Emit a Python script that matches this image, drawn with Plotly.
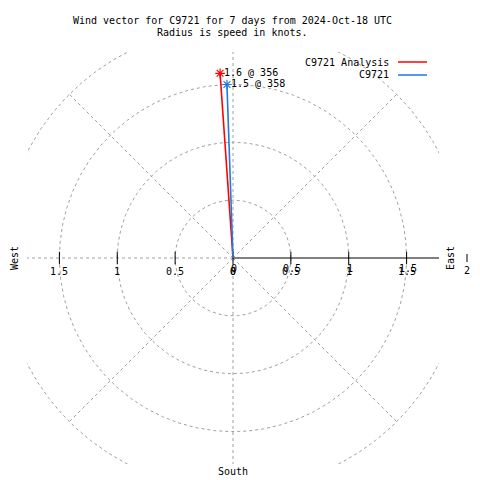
import numpy as np
import plotly.graph_objects as go

# ---- data ----
series_names = ["C9721 Analysis", "C9721"]
series_speed = [1.6, 1.5]          # knots
series_dir = [356, 358]            # degrees (from north, clockwise)
series_colors = ["#ff0000", "#1f7ae0"]

grid_radii = [0.5, 1.0, 1.5, 2.0]
spoke_angles = [45, 90, 135, 180, 225, 270, 315]
left_tick_vals = [-1.5, -1.0, -0.5, 0.0]
left_tick_text = ["1.5", "1", "0.5", "0"]
right_tick_vals = [0.0, 0.5, 1.0, 1.5]
right_tick_text = ["0", "0.5", "1", "1.5"]

title1 = "Wind vector for C9721 for 7 days from 2024-Oct-18 UTC"
title2 = "Radius is speed in knots."

R = 1.78
FONT = "DejaVu Sans Mono"
FS = 10
GRID = "#a0a0a0"

fig = go.Figure()
annots = []
shapes = []

# grid circles
th = np.linspace(0, 2 * np.pi, 721)
for r in grid_radii:
    fig.add_trace(go.Scatter(x=r * np.cos(th), y=r * np.sin(th), mode="lines",
                             line=dict(color=GRID, width=1, dash="3px,3px"),
                             hoverinfo="skip", showlegend=False))
# spokes (to the outer circle)
for a in spoke_angles:
    ar = np.deg2rad(a)
    rr = grid_radii[-1]
    fig.add_trace(go.Scatter(x=[0, rr * np.cos(ar)], y=[0, rr * np.sin(ar)], mode="lines",
                             line=dict(color=GRID, width=1, dash="3px,3px"),
                             hoverinfo="skip", showlegend=False))

# solid axis to the right
fig.add_trace(go.Scatter(x=[0, R], y=[0, 0], mode="lines",
                         line=dict(color="black", width=1), hoverinfo="skip", showlegend=False))
# tick marks
tick_x = sorted(set(left_tick_vals + right_tick_vals))
fig.add_trace(go.Scatter(x=tick_x, y=[0] * len(tick_x), mode="markers",
                         marker=dict(symbol="line-ns", size=9, color="black",
                                     line=dict(color="black", width=1)),
                         hoverinfo="skip", showlegend=False))

# wind vectors
for name, s, d, c in zip(series_names, series_speed, series_dir, series_colors):
    x_end = s * np.sin(np.deg2rad(d))
    y_end = s * np.cos(np.deg2rad(d))
    fig.add_trace(go.Scatter(x=[0, x_end], y=[0, y_end], mode="lines",
                             line=dict(color=c, width=1.6), name=name, showlegend=False))
    fig.add_trace(go.Scatter(x=[x_end], y=[y_end], mode="markers",
                             marker=dict(symbol="asterisk-open", size=8, color=c,
                                         line=dict(color=c, width=1.2)),
                             showlegend=False, hoverinfo="skip"))
    annots.append(dict(x=x_end, y=y_end, xref="x", yref="y", text=f"{s:.1f} @ {d:d}",
                       showarrow=False, xanchor="left", yanchor="middle", xshift=2, yshift=1,
                       font=dict(family=FONT, size=FS, color="black")))

# tick labels
for v, t in zip(left_tick_vals, left_tick_text):
    annots.append(dict(x=v, y=0, xref="x", yref="y", text=t, showarrow=False,
                       xanchor="center", yshift=-13, font=dict(family=FONT, size=FS, color="black")))
for v, t in zip(right_tick_vals, right_tick_text):
    annots.append(dict(x=v, y=0, xref="x", yref="y", text=t, showarrow=False,
                       xanchor="center", yshift=-13, font=dict(family=FONT, size=FS, color="black")))
    annots.append(dict(x=v, y=0, xref="x", yref="y", text=t, showarrow=False,
                       xanchor="center", yshift=-10, xshift=1,
                       font=dict(family=FONT, size=FS, color="black")))

def px(xp, yp):
    return (xp - 27) / 412, (464 - yp) / 412

for txt, (xp, yp) in [(title1, (232, 20)), (title2, (232, 33))]:
    x, y = px(xp, yp)
    annots.append(dict(x=x, y=y, xref="paper", yref="paper", text=txt, showarrow=False,
                       xanchor="center", yanchor="middle", font=dict(family=FONT, size=FS, color="black")))

# compass labels
for txt, (xp, yp), ang in [("West", (14, 258), -90), ("East", (450, 258), -90),
                           ("South", (233, 471), 0), ("2", (467, 270), 0)]:
    x, y = px(xp, yp)
    annots.append(dict(x=x, y=y, xref="paper", yref="paper", text=txt, textangle=ang,
                       showarrow=False, xanchor="center", yanchor="middle",
                       font=dict(family=FONT, size=FS, color="black")))

# legend
for i, (name, c) in enumerate(zip(series_names, series_colors)):
    yp = 62 + 13 * i
    x, y = px(391, yp)
    annots.append(dict(x=x, y=y, xref="paper", yref="paper", text=name, showarrow=False,
                       xanchor="right", yanchor="middle", font=dict(family=FONT, size=FS, color="black")))
    x0, y0 = px(398, yp)
    x1, _ = px(427, yp)
    shapes.append(dict(type="line", xref="paper", yref="paper", x0=x0, x1=x1, y0=y0, y1=y0,
                       line=dict(color=c, width=1.5)))
# tick beyond the box at r=2
x, y0 = px(467, 254)
_, y1 = px(467, 262)
shapes.append(dict(type="line", xref="paper", yref="paper", x0=x, x1=x, y0=y0, y1=y1,
                   line=dict(color="black", width=1)))

fig.update_layout(
    width=480, height=480, autosize=False,
    margin=dict(l=27, r=41, t=52, b=16, pad=0),
    paper_bgcolor="white", plot_bgcolor="white",
    xaxis=dict(range=[-R, R], visible=False, fixedrange=True),
    yaxis=dict(range=[-R, R], visible=False, fixedrange=True),
    showlegend=False,
)
fig.layout.annotations = annots
fig.layout.shapes = shapes

fig.write_html("out.html", config={"displayModeBar": False},
               post_script="document.body.style.margin='0';")
